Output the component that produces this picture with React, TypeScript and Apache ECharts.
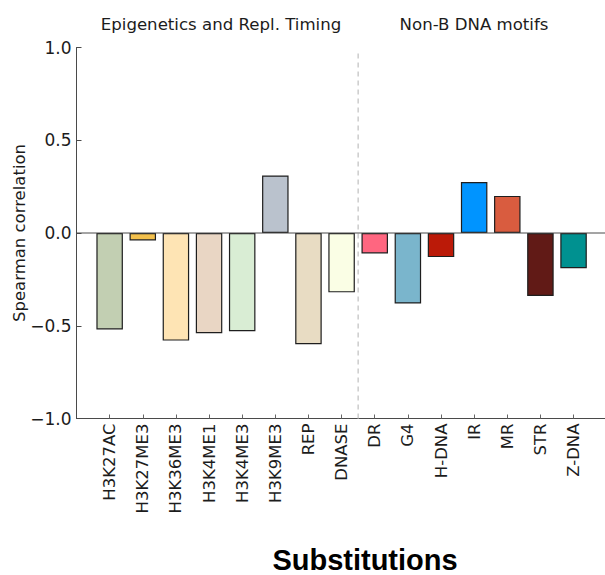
import React, { useEffect, useRef } from "react";
import * as echarts from "echarts";

// Spearman correlation of substitution density with each genomic feature
const categories = [
  "H3K27AC",
  "H3K27ME3",
  "H3K36ME3",
  "H3K4ME1",
  "H3K4ME3",
  "H3K9ME3",
  "REP",
  "DNASE",
  "DR",
  "G4",
  "H-DNA",
  "IR",
  "MR",
  "STR",
  "Z-DNA",
];
const correlations = [
  -0.52, -0.04, -0.58, -0.54, -0.53, 0.31, -0.6, -0.32, -0.11, -0.38, -0.13,
  0.275, 0.2, -0.34, -0.19,
];
const barColors = [
  "#c2cfb2",
  "#f3c04c",
  "#fee4b4",
  "#e9d6c4",
  "#d9edd4",
  "#bac2cd",
  "#e8dcc3",
  "#fafee5",
  "#ff6680",
  "#7ab5cc",
  "#bb1a08",
  "#0094ff",
  "#d95c3f",
  "#611a16",
  "#009190",
];
const yTicks = [-1, -0.5, 0, 0.5, 1];
const groupTitles = ["Epigenetics and Repl. Timing", "Non-B DNA motifs"];
const groupDivider = 7.5;
const xTitle = "Substitutions";
const yTitle = "Spearman correlation";

const FONT = "'DejaVu Sans', 'Noto Sans', sans-serif";
const TEXT = "#1c1c1c";

export default function App() {
  const ref = useRef<HTMLDivElement>(null);

  useEffect(() => {
    if (!ref.current) return;
    const chart = echarts.init(ref.current, undefined, { renderer: "svg" });
    const idx = categories.map((_, i) => i);

    chart.setOption({
      animation: false,
      backgroundColor: "#ffffff",
      grid: {
        left: 76.5,
        right: -1.7,
        top: 47.5,
        bottom: 156.5,
        containLabel: false,
        outerBoundsMode: "none",
      },
      xAxis: {
        type: "value",
        min: -1,
        max: 15,
        interval: 1,
        splitLine: { show: false },
        axisLine: { show: true, onZero: false, lineStyle: { color: "#4a4a4a", width: 1 } },
        axisTick: {
          show: true,
          inside: true,
          length: 4,
          customValues: idx,
          lineStyle: { color: "#666666", width: 1 },
        },
        axisLabel: {
          show: true,
          rotate: 90,
          margin: 5,
          customValues: idx,
          fontSize: 16.5,
          fontFamily: FONT,
          color: TEXT,
          formatter: (v: number) => categories[Math.round(v)] ?? "",
        },
      },
      yAxis: {
        type: "value",
        min: -1,
        max: 1,
        interval: 0.5,
        splitLine: { show: false },
        axisLine: { show: true, onZero: false, lineStyle: { color: "#4a4a4a", width: 1 } },
        axisTick: {
          show: true,
          inside: true,
          length: 5,
          customValues: yTicks,
          lineStyle: { color: "#4a4a4a", width: 1 },
        },
        axisLabel: {
          margin: 5,
          customValues: yTicks,
          fontSize: 17,
          fontFamily: FONT,
          color: TEXT,
          formatter: (v: number) => v.toFixed(1).replace("-", "\u2212"),
        },
      },
      series: [
        {
          type: "line",
          data: [
            [groupDivider, -1],
            [groupDivider, 0.97],
          ],
          symbol: "none",
          silent: true,
          z: 1,
          lineStyle: { color: "#cccccc", width: 1.5, type: [5, 4] },
        },
        {
          type: "bar",
          barWidth: 26.5,
          z: 2,
          data: correlations.map((v, i) => ({
            value: [i, v],
            itemStyle: { color: barColors[i], borderColor: "#1e1e1e", borderWidth: 1.2 },
          })),
        },
        {
          type: "line",
          data: [
            [-1, 0],
            [15, 0],
          ],
          symbol: "none",
          silent: true,
          z: 3,
          lineStyle: { color: "#4a4a4a", width: 1 },
        },
      ],
      graphic: [
        {
          type: "text",
          x: 19,
          y: 233,
          rotation: Math.PI / 2,
          style: {
            text: yTitle,
            fontSize: 16.5,
            fontFamily: FONT,
            fill: TEXT,
            align: "center",
            verticalAlign: "middle",
          },
        },
        {
          type: "text",
          x: 221,
          y: 24,
          style: {
            text: groupTitles[0],
            fontSize: 16.6,
            fontFamily: FONT,
            fill: TEXT,
            align: "center",
            verticalAlign: "middle",
          },
        },
        {
          type: "text",
          x: 474,
          y: 24,
          style: {
            text: groupTitles[1],
            fontSize: 16.6,
            fontFamily: FONT,
            fill: TEXT,
            align: "center",
            verticalAlign: "middle",
          },
        },
        {
          type: "text",
          x: 365,
          y: 560,
          style: {
            text: xTitle,
            fontSize: 29,
            fontWeight: "bold",
            fontFamily: "'Liberation Sans', Arial, sans-serif",
            fill: "#000000",
            align: "center",
            verticalAlign: "middle",
          },
        },
      ],
    });

    return () => chart.dispose();
  }, []);

  return (
    <div
      ref={ref}
      style={{ position: "fixed", left: 0, top: 0, width: 605, height: 575, background: "#fff" }}
    />
  );
}
